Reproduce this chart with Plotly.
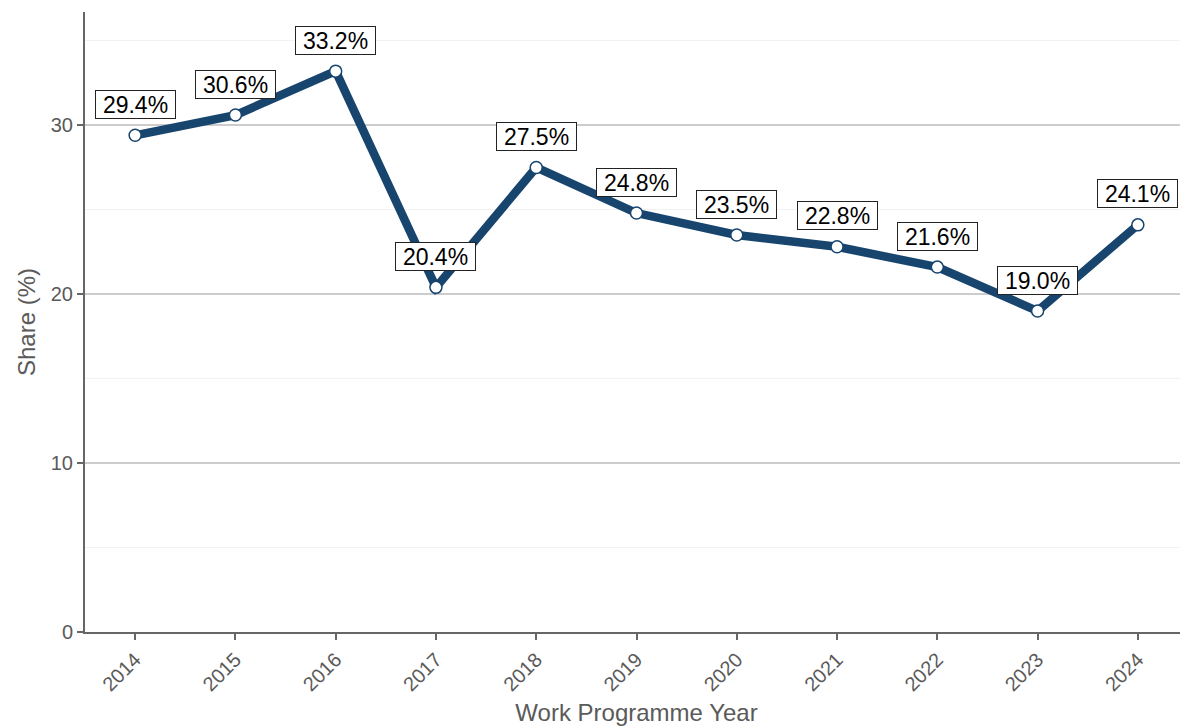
import plotly.graph_objects as go

years = [2014, 2015, 2016, 2017, 2018, 2019, 2020, 2021, 2022, 2023, 2024]
share = [29.4, 30.6, 33.2, 20.4, 27.5, 24.8, 23.5, 22.8, 21.6, 19.0, 24.1]
labels = [f"{v:.1f}%" for v in share]

line_color = "#17456e"
font_family = "Liberation Sans, Arial, sans-serif"

fig = go.Figure()
fig.add_trace(go.Scatter(
    x=years, y=share, mode="lines+markers",
    line=dict(color=line_color, width=8.5),
    marker=dict(size=12, color="white", line=dict(color=line_color, width=1.5)),
    hoverinfo="skip", showlegend=False,
))

for x, y, t in zip(years, share, labels):
    fig.add_annotation(
        x=x, y=y, text="&nbsp;" + t + "&nbsp;", showarrow=False, yshift=31,
        font=dict(family=font_family, size=23, color="black"),
        bgcolor="white", bordercolor="#222222", borderwidth=1, borderpad=0.5,
    )

fig.update_layout(
    width=1180, height=719,
    margin=dict(l=77, r=0, t=4, b=95),
    paper_bgcolor="white", plot_bgcolor="white",
    font=dict(family=font_family, color="#4d4d4d"),
    xaxis=dict(
        range=[2013.5, 2024.5], tickmode="array", tickvals=years,
        ticktext=[str(y) for y in years], tickangle=-45,
        showgrid=False, zeroline=False, automargin=False,
        showline=True, linecolor="#666666", linewidth=2,
        ticks="outside", ticklen=6, tickcolor="#666666", tickwidth=2,
        tickfont=dict(size=20, color="#5a5a5a"),
        title=dict(text="Work Programme Year", font=dict(size=24, color="#5a5a5a"), standoff=10),
    ),
    yaxis=dict(
        range=[0, 36.7], tickmode="array", tickvals=[0, 10, 20, 30],
        showgrid=True, gridcolor="#cccccc", gridwidth=1.5, zeroline=False, automargin=False,
        showline=True, linecolor="#666666", linewidth=2,
        ticks="outside", ticklen=6, tickcolor="#666666", tickwidth=2,
        tickfont=dict(size=20, color="#5a5a5a"),
        minor=dict(tickvals=[5, 15, 25, 35], showgrid=True, gridcolor="#f2f2f2", gridwidth=1, ticks=""),
        title=dict(text="Share (%)", font=dict(size=24, color="#5a5a5a"), standoff=8),
    ),
)

fig.write_html("out.html")
